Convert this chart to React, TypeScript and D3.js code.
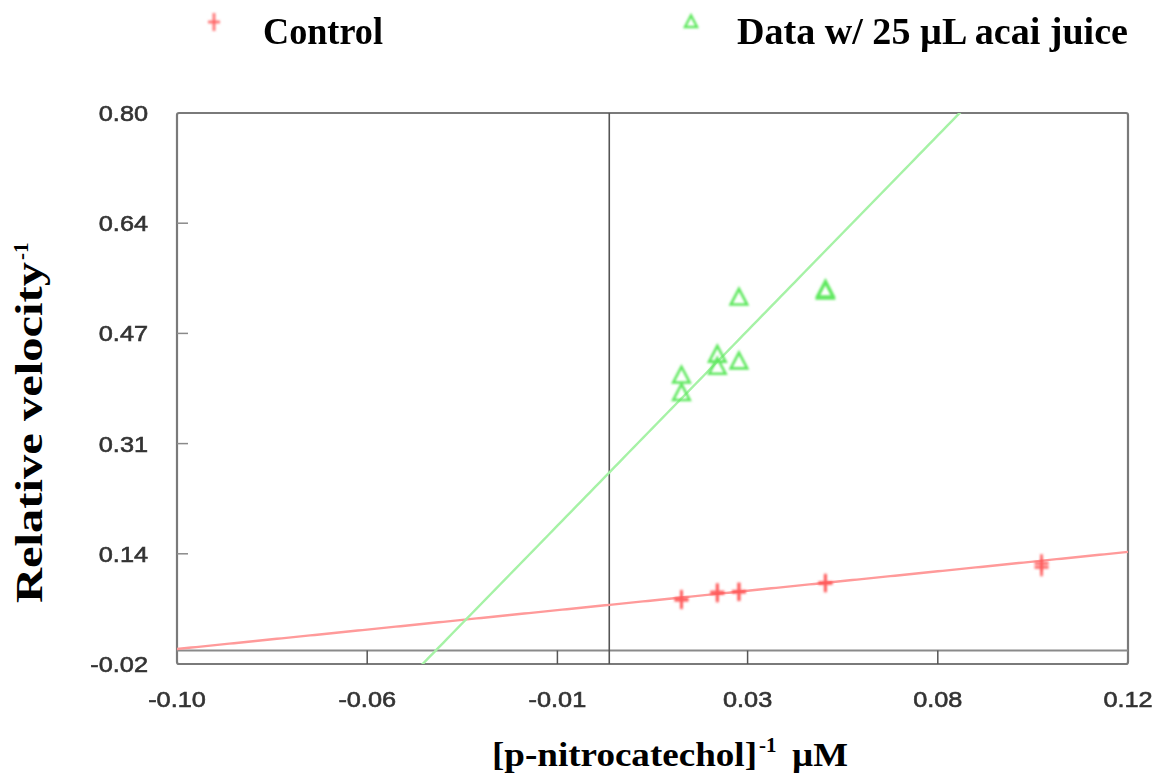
import React from "react";
import * as d3 from "d3";

const W = 1160;
const H = 773;

const xTickValues = [-0.1, -0.056, -0.012, 0.032, 0.076, 0.12];
const xTickLabels = ["-0.10", "-0.06", "-0.01", "0.03", "0.08", "0.12"];
const yTickValues = [-0.02, 0.144, 0.308, 0.472, 0.636, 0.8];
const yTickLabels = ["-0.02", "0.14", "0.31", "0.47", "0.64", "0.80"];

const controlX = [0.0167, 0.0167, 0.025, 0.025, 0.03, 0.03, 0.05, 0.05, 0.1, 0.1];
const controlY = [0.075, 0.077, 0.085, 0.087, 0.087, 0.088, 0.1, 0.101, 0.13, 0.124];

const acaiX = [0.0167, 0.0167, 0.025, 0.025, 0.03, 0.03, 0.05, 0.05];
const acaiY = [0.409, 0.383, 0.44, 0.422, 0.525, 0.43, 0.537, 0.534];

const controlFit = { slope: 0.657, intercept: 0.068 };
const acaiFit = { slope: 6.6, intercept: 0.265 };

const RED = "#ff5a5a";
const RED_LINE = "#ff9a9a";
const GREEN = "#5ee85e";
const GREEN_LINE = "#a6f2a6";

export default function App() {
  const left = 177, right = 1128, top = 113, bottom = 664;
  const x = d3.scaleLinear().domain([-0.1, 0.12]).range([left, right]);
  const y = d3.scaleLinear().domain([-0.02, 0.8]).range([bottom, top]);
  const line = d3
    .line<[number, number]>()
    .x((d) => x(d[0]))
    .y((d) => y(d[1]));
  const fitPts = (f: { slope: number; intercept: number }) =>
    d3.range(0, 201).map((i) => {
      const xv = -0.1 + (0.22 * i) / 200;
      return [xv, f.intercept + f.slope * xv] as [number, number];
    });

  const tri = (cx: number, cy: number, s: number) =>
    `M${cx},${cy - s * 0.6} L${cx + s * 0.55},${cy + s * 0.45} L${cx - s * 0.55},${cy + s * 0.45} Z`;

  const tickFont = "'Liberation Sans', Arial, sans-serif";
  const titleFont = "'Liberation Serif', 'Times New Roman', serif";

  return (
    <svg
      width={W}
      height={H}
      style={{ position: "absolute", left: 0, top: 0, background: "#fff" }}
    >
      <defs>
        <clipPath id="plotclip">
          <rect x={left} y={top} width={right - left} height={bottom - top} />
        </clipPath>
        <filter id="soft" x="-20%" y="-20%" width="140%" height="140%">
          <feGaussianBlur stdDeviation="0.6" />
        </filter>
        <filter id="soft2" x="-50%" y="-50%" width="200%" height="200%">
          <feGaussianBlur stdDeviation="0.9" />
        </filter>
      </defs>

      {/* legend */}
      <g filter="url(#soft2)">
        <line x1={214} x2={214} y1={13} y2={31} stroke={RED} strokeWidth={3} opacity={0.8} />
        <line x1={208} x2={220} y1={22} y2={22} stroke={RED} strokeWidth={3} opacity={0.8} />
        <path d={tri(691, 22, 11)} fill="none" stroke={GREEN} strokeWidth={2.4} />
      </g>
      <text
        x={263}
        y={44}
        fontFamily={titleFont}
        fontWeight="bold"
        fontSize={38}
        textLength={120}
        lengthAdjust="spacingAndGlyphs"
        fill="#000"
      >
        Control
      </text>
      <text
        x={737}
        y={44}
        fontFamily={titleFont}
        fontWeight="bold"
        fontSize={38}
        textLength={391}
        lengthAdjust="spacingAndGlyphs"
        fill="#000"
      >
        Data w/ 25 µL acai juice
      </text>

      {/* frame */}
      <g filter="url(#soft)">
        <rect
          x={left}
          y={top}
          width={right - left}
          height={bottom - top}
          fill="none"
          stroke="#7a7a7a"
          strokeWidth={2.2}
          rx={2}
        />
        <line x1={left} x2={right} y1={y(0)} y2={y(0)} stroke="#8a8a8a" strokeWidth={2} />
        <line x1={x(0)} x2={x(0)} y1={top} y2={bottom} stroke="#555" strokeWidth={1.6} />
        {yTickValues.slice(1, -1).map((v, i) => (
          <line key={"yt" + i} x1={left} x2={left + 11} y1={y(v)} y2={y(v)} stroke="#8a8a8a" strokeWidth={1.5} />
        ))}
        {xTickValues.slice(1, -1).map((v, i) => (
          <line key={"xt" + i} x1={x(v)} x2={x(v)} y1={bottom} y2={y(0)} stroke="#555" strokeWidth={1.5} />
        ))}
      </g>

      {/* fit lines */}
      <g clipPath="url(#plotclip)" filter="url(#soft)">
        <path d={line(fitPts(controlFit)) || ""} fill="none" stroke={RED_LINE} strokeWidth={2.4} />
        <path d={line(fitPts(acaiFit)) || ""} fill="none" stroke={GREEN_LINE} strokeWidth={2.4} />
      </g>

      {/* points */}
      <g filter="url(#soft2)">
        {controlX.map((xv, i) => (
          <g key={"c" + i} opacity={0.85}>
            <line x1={x(xv)} x2={x(xv)} y1={y(controlY[i]) - 9} y2={y(controlY[i]) + 9} stroke={RED} strokeWidth={3} />
            <line x1={x(xv) - 7} x2={x(xv) + 7} y1={y(controlY[i])} y2={y(controlY[i])} stroke={RED} strokeWidth={3.2} />
          </g>
        ))}
        {acaiX.map((xv, i) => (
          <path key={"a" + i} d={tri(x(xv), y(acaiY[i]), 15)} fill="none" stroke={GREEN} strokeWidth={2.6} />
        ))}
      </g>

      {/* tick labels */}
      <g
        filter="url(#soft)"
        fill="#333"
        stroke="#333"
        strokeWidth={0.6}
        fontFamily={tickFont}
        fontSize={22}
      >
        {yTickValues.map((v, i) => (
          <text
            key={"yl" + i}
            transform={`translate(148,${y(v) + 8}) scale(1.15,1)`}
            textAnchor="end"
          >
            {yTickLabels[i]}
          </text>
        ))}
        {xTickValues.map((v, i) => (
          <text
            key={"xl" + i}
            transform={`translate(${x(v)},707) scale(1.15,1)`}
            textAnchor="middle"
          >
            {xTickLabels[i]}
          </text>
        ))}
      </g>

      {/* x title */}
      <text
        x={492}
        y={766}
        fontFamily={titleFont}
        fontWeight="bold"
        fontSize={33}
        textLength={265}
        lengthAdjust="spacingAndGlyphs"
        fill="#000"
      >
        [p-nitrocatechol]
      </text>
      <text x={759} y={752} fontFamily={titleFont} fontWeight="bold" fontSize={21} fill="#000">
        -1
      </text>
      <text
        x={792}
        y={766}
        fontFamily={titleFont}
        fontWeight="bold"
        fontSize={33}
        textLength={56}
        lengthAdjust="spacingAndGlyphs"
        fill="#000"
      >
        µM
      </text>

      {/* y title */}
      <g transform="translate(42,603) rotate(-90)">
        <text
          x={0}
          y={0}
          fontFamily={titleFont}
          fontWeight="bold"
          fontSize={37}
          textLength={341}
          lengthAdjust="spacingAndGlyphs"
          fill="#000"
        >
          Relative velocity
        </text>
        <text x={343} y={-14} fontFamily={titleFont} fontWeight="bold" fontSize={21} fill="#000">
          -1
        </text>
      </g>
    </svg>
  );
}
